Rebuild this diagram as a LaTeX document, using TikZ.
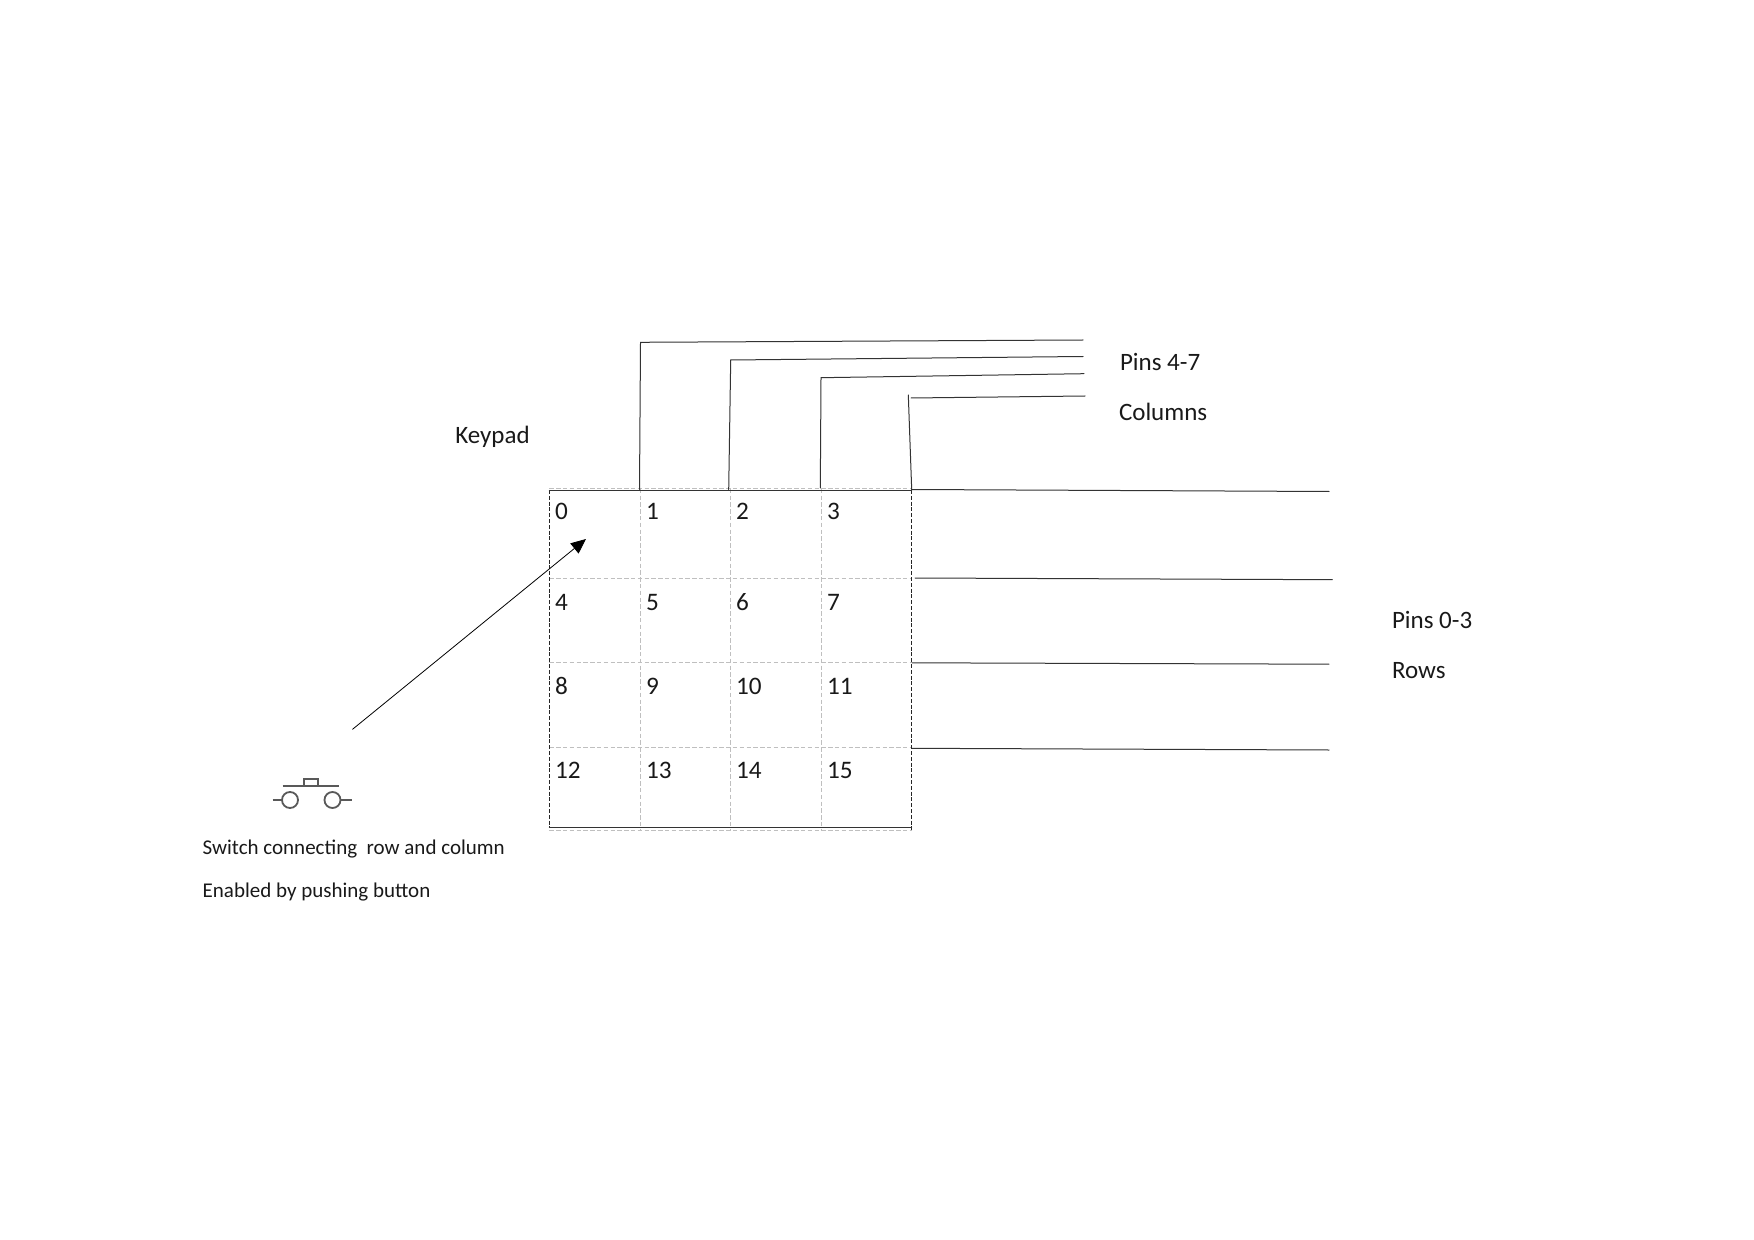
\documentclass[tikz,border=0pt]{standalone}
\usepackage{fontspec}
\setmainfont{Carlito}
\usetikzlibrary{arrows.meta}
\begin{document}
\begin{tikzpicture}[x=0.5pt,y=-0.5pt,
  wire/.style={line width=0.5pt,draw=black!80,line cap=round},
  gridgray/.style={line width=0.4pt,draw=black!25,dash pattern=on 2.2pt off 1.2pt},
  gridblack/.style={line width=0.4pt,draw=black!85,dash pattern=on 2pt off 0.9pt},
  symb/.style={line width=0.9pt,draw=black!65},
  lab/.style={anchor=base west,inner sep=0pt,outer sep=0pt,font=\fontsize{12.5}{15}\selectfont,text=black!90},
  small/.style={lab,font=\fontsize{10.5}{12}\selectfont},
  digit/.style={lab,font=\fontsize{12.6}{15}\selectfont}]
\useasboundingbox (0,0) rectangle (1754,1240);
% grid
\foreach \x in {640.3,730.7,821.3}{\draw[gridgray] (\x,488.7) -- (\x,830);}
\foreach \y in {578.8,662.8,747.2}{\draw[gridgray] (549.3,\y) -- (911.7,\y);}
\draw[gridgray] (549.3,488.2) -- (911.7,488.2);
\draw[gridgray] (549.3,830.5) -- (911.7,830.5);
\draw[gridblack] (549.3,490) -- (549.3,827);
\draw[gridblack] (911.2,490) -- (911.2,830);
\draw[wire] (549.3,490.3) -- (911.7,490.3);
\draw[wire] (549.3,827.3) -- (911.7,827.3);
% column wires
\coordinate (c1a) at (639.5,489.5); \coordinate (c1b) at (640.5,342.3); \coordinate (c1c) at (1083,340);
\coordinate (c2a) at (728.7,489.5); \coordinate (c2b) at (730.7,360); \coordinate (c2c) at (1083,356.5);
\coordinate (c3a) at (820.3,488); \coordinate (c3b) at (821,377.7); \coordinate (c3c) at (1084,373.7);
\coordinate (c4a) at (911.7,490); \coordinate (c4b) at (908.3,395); \coordinate (c4d) at (911,398); \coordinate (c4c) at (1085,396);
\draw[wire] (c1a) -- (c1b) -- (c1c);
\draw[wire] (c2a) -- (c2b) -- (c2c);
\draw[wire] (c3a) -- (c3b) -- (c3c);
\draw[wire] (c4a) -- (c4b);
\draw[wire] (c4d) -- (c4c);
% row wires
\coordinate (r1a) at (912,489.5); \coordinate (r1b) at (1329,491.5);
\coordinate (r2a) at (915,578); \coordinate (r2b) at (1332.4,579.7);
\coordinate (r3a) at (912,662.8); \coordinate (r3b) at (1329,664.2);
\coordinate (r4a) at (912,748.3); \coordinate (r4b) at (1329,750);
\foreach \r in {1,2,3,4}{\draw[wire] (r\r a) -- (r\r b);}
% digits
\node[digit] (k0) at (555,519.5) {0};
\node[digit] (k1) at (646,519.5) {1};
\node[digit] (k2) at (736,519.5) {2};
\node[digit] (k3) at (827,519.5) {3};
\node[digit] (k4) at (555,610) {4};
\node[digit] (k5) at (646,610) {5};
\node[digit] (k6) at (736,610) {6};
\node[digit] (k7) at (827,610) {7};
\node[digit] (k8) at (555,694) {8};
\node[digit] (k9) at (646,694) {9};
\node[digit] (k10) at (736,694) {10};
\node[digit] (k11) at (827,694) {11};
\node[digit] (k12) at (555,778) {12};
\node[digit] (k13) at (646,778) {13};
\node[digit] (k14) at (736,778) {14};
\node[digit] (k15) at (827,778) {15};
% labels
\node[lab] (keypad) at (455.3,444) {Keypad};
\node[lab] (pins47) at (1120,370.5) {Pins 4-7};
\node[lab] (cols) at (1119,420.5) {Columns};
\node[lab] (pins03) at (1392,628.5) {Pins 0-3};
\node[lab] (rows) at (1392,678) {Rows};
\node[small] (sw1) at (202.7,854) {Switch connecting\ \ row and column};
\node[small] (sw2) at (202.7,897) {Enabled by pushing button};
% arrow
\coordinate (as) at (352.4,729.4);
\coordinate (at) at (586,539);
\draw[line width=0.4pt,black,-{Triangle[length=7.5pt,width=6.5pt]}] (as) -- (at);
% switch symbol
\node[symb,circle,draw,inner sep=0pt,minimum size=8pt] (sa) at (290,800) {};
\node[symb,circle,draw,inner sep=0pt,minimum size=8pt] (sb) at (332.5,800) {};
\coordinate (la) at (272.7,800); \coordinate (lb) at (351.7,800);
\draw[symb] (la) -- (sa);
\draw[symb] (sb) -- (lb);
\draw[symb] (282.7,785.7) -- (339.3,785.7);
\draw[symb] (304,785.7) rectangle (318.3,778.7);
\end{tikzpicture}
\end{document}
